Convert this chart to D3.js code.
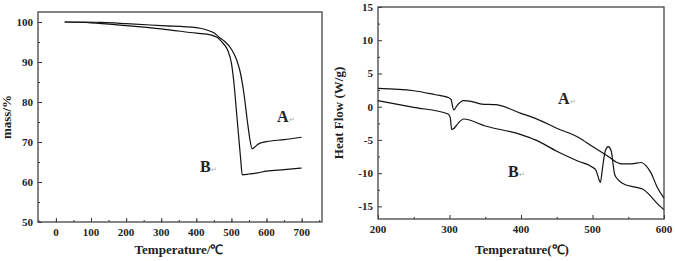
<!DOCTYPE html>
<html>
<head>
<meta charset="utf-8">
<script src="https://cdn.jsdelivr.net/npm/d3@7"></script>
<style>
  body { margin: 0; background: #fff; }
</style>
</head>
<body>
<svg id="chart" width="675" height="261" font-family="'Liberation Serif', 'Times New Roman', Times, serif" font-weight="bold"></svg>
<script>
// TGA curves (temperature, mass %)
const tgaA = [[25,100],[80,100],[130,99.9],[200,99.6],[300,99.1],[400,98.6],[430,98.0],[450,97.3],[465,96.2],
  [480,95.2],[500,93.2],[515,90.5],[525,87.5],[535,82.5],[545,75.5],[552,71],[559,68.3],[566,68.7],[575,69.4],
  [585,69.8],[600,70.1],[650,70.6],[700,71.2]];
const tgaB = [[25,100],[100,99.8],[200,99.1],[300,98.3],[400,97.2],[440,96.8],[460,96.1],[475,94.8],[490,92.8],
  [500,89.7],[508,84],[514,78],[520,72],[526,66],[531,61.8],[550,62],[575,62.3],[600,62.7],[650,63.1],[700,63.5]];
// DSC curves (temperature, heat flow W/g)
const dscA = [[200,2.75],[250,2.4],[280,1.8],[298,1.4],[302,1.1],[306,-0.5],[310,0.1],[320,0.9],[330,0.8],
  [345,0.4],[365,0.3],[400,-1],[420,-1.75],[450,-3.25],[480,-4.6],[500,-6],[520,-7.35],[540,-8.6],[555,-8.6],
  [568,-8.4],[575,-8.9],[582,-10],[590,-12],[600,-13.75]];
const dscB = [[200,0.9],[250,-0.1],[298,-1.1],[301,-1.6],[303,-3.4],[306,-3.3],[312,-2.5],[320,-1.85],[350,-2.9],
  [400,-4.2],[420,-5],[450,-6.7],[480,-8.2],[500,-9.1],[505,-9.6],[508,-10.6],[511,-11.4],[514,-9.2],[518,-6.6],
  [522,-6.0],[526,-6.6],[531,-10.2],[536,-11],[545,-11.7],[560,-12.1],[570,-12.4],[580,-13.3],[590,-14.5],[600,-15.5]];

const tgaXTicks = [0,100,200,300,400,500,600,700];
const tgaYTicks = [50,60,70,80,90,100];
const dscXTicks = [200,300,400,500,600];
const dscYTicks = [-15,-10,-5,0,5,10,15];

const svg = d3.select("#chart");

function panel(opts) {
  const { left, right, top, bottom, xDomain, yDomain, xTicks, yTicks, xMinor, yMinor, series, xTitle, yTitle, labels } = opts;
  const x = d3.scaleLinear().domain(xDomain).range([left, right]);
  const y = d3.scaleLinear().domain(yDomain).range([bottom, top]);
  const g = svg.append("g");

  // inward ticks
  g.append("g").attr("transform", `translate(0,${bottom})`)
    .call(d3.axisTop(x).tickValues(xMinor).tickSize(2).tickFormat(""));
  g.append("g").attr("transform", `translate(0,${bottom})`)
    .call(d3.axisTop(x).tickValues(xTicks).tickSize(4).tickFormat(""));
  g.append("g").attr("transform", `translate(${left},0)`)
    .call(d3.axisRight(y).tickValues(yMinor).tickSize(2).tickFormat(""));
  g.append("g").attr("transform", `translate(${left},0)`)
    .call(d3.axisRight(y).tickValues(yTicks).tickSize(4).tickFormat(""));
  g.selectAll(".domain").remove();
  g.selectAll(".tick line").attr("stroke", "#333").attr("stroke-width", 1);

  g.selectAll(".xl").data(xTicks).join("text")
    .attr("x", d => x(d)).attr("y", bottom + 14)
    .attr("text-anchor", "middle").attr("font-size", 11).attr("fill", "#222").text(d => d);
  g.selectAll(".yl").data(yTicks).join("text")
    .attr("x", left - 5).attr("y", d => y(d)).attr("dy", "0.35em")
    .attr("text-anchor", "end").attr("font-size", 11).attr("fill", "#222").text(d => d);

  g.append("rect").attr("x", left).attr("y", top)
    .attr("width", right - left).attr("height", bottom - top)
    .attr("fill", "none").attr("stroke", "#444").attr("stroke-width", 1.3);

  const line = d3.line().x(d => x(d[0])).y(d => y(d[1])).curve(d3.curveMonotoneX);
  series.forEach(s => {
    g.append("path").attr("d", line(s)).attr("fill", "none")
      .attr("stroke", "#111").attr("stroke-width", 1.2);
  });

  g.append("text").attr("x", opts.xTitleX).attr("y", 254)
    .attr("text-anchor", "middle").attr("font-size", 13).attr("fill", "#222").text(xTitle);
  g.append("text")
    .attr("transform", `translate(${opts.yTitleX},${(top + bottom) / 2}) rotate(-90)`)
    .attr("text-anchor", "middle").attr("font-size", 13).attr("fill", "#222").text(yTitle);

  labels.forEach(l => {
    const t = g.append("text").attr("x", l.x).attr("y", l.y).attr("font-size", 16).attr("fill", "#222");
    t.append("tspan").text(l.t);
    t.append("tspan").attr("font-size", 7).attr("font-weight", "normal")
      .attr("fill", "#aaa").text("\u21b5");
  });
}

panel({
  left: 38, right: 322, top: 12, bottom: 222,
  xDomain: [-51, 758], yDomain: [50, 102.5],
  xTicks: tgaXTicks, yTicks: tgaYTicks,
  xMinor: d3.range(-50, 751, 50), yMinor: d3.range(55, 101, 5),
  series: [tgaA, tgaB],
  xTitle: "Temperature/\u2103", xTitleX: 179,
  yTitle: "mass/%", yTitleX: 11,
  labels: [{ t: "A", x: 277, y: 122 }, { t: "B", x: 200, y: 172 }]
});

panel({
  left: 378, right: 664, top: 7, bottom: 219,
  xDomain: [200, 600], yDomain: [-16.9, 15],
  xTicks: dscXTicks, yTicks: dscYTicks,
  xMinor: d3.range(250, 600, 100), yMinor: d3.range(-12.5, 15, 5),
  series: [dscA, dscB],
  xTitle: "Temperature(\u2103)", xTitleX: 522,
  yTitle: "Heat Flow (W/g)", yTitleX: 343,
  labels: [{ t: "A", x: 558, y: 104 }, { t: "B", x: 508, y: 177 }]
});
</script>
</body>
</html>
